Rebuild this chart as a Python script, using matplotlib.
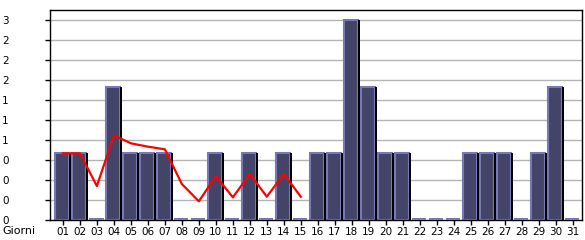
import matplotlib
matplotlib.use("Agg")
import matplotlib.pyplot as plt

# giorni del mese e visite per giorno
days = list(range(1, 32))
day_labels = ["%02d" % d for d in days]
visits = [1, 1, 0, 2, 1, 1, 1, 0, 0, 1, 0, 1, 0, 1, 0,
          1, 1, 3, 2, 1, 1, 0, 0, 0, 1, 1, 1, 0, 1, 2, 0]

# linea rossa (media) solo per i primi 15 giorni
avg_days = list(range(1, 16))
avg_values = [1.0, 1.0, 0.51, 1.27, 1.15, 1.10, 1.06, 0.54, 0.28,
              0.66, 0.34, 0.69, 0.35, 0.69, 0.35]

y_ticks = [0, 0.3, 0.6, 0.9, 1.2, 1.5, 1.8, 2.1, 2.4, 2.7, 3.0]
y_tick_labels = ["0", "0", "0", "0", "1", "1", "1", "2", "2", "2", "3"]

face = "#444468"
edge = "#7878b8"

fig = plt.figure(figsize=(5.85, 2.4), dpi=100)
ax = fig.add_axes([50 / 585, 20 / 240, 532 / 585, 210 / 240])

for y in y_ticks[1:]:
    ax.axhline(y, color="#b4b4b4", linewidth=1, zorder=0)

# barre con bordo chiaro e ombra nera a destra
ax.bar([d - 0.06 for d in days], visits, width=0.82, color=face,
       edgecolor=edge, linewidth=1.5, zorder=2)
ax.bar([d + 0.42 for d in days], visits, width=0.12, color="black",
       linewidth=0, zorder=3)
# giorni senza visite: sottile linea sul fondo
zero_mark = [0.035 if v == 0 else 0 for v in visits]
ax.bar([d - 0.04 for d in days], zero_mark, width=0.86, color=edge,
       linewidth=0, zorder=3)

ax.plot(avg_days, avg_values, color="#ff0000", linewidth=1.6, zorder=4)

ax.set_xlim(0.24, 31.55)
ax.set_ylim(0, 3.15)
ax.set_xticks(days)
ax.set_xticklabels(day_labels, fontsize=7.5)
ax.set_yticks(y_ticks)
ax.set_yticklabels(y_tick_labels, fontsize=7.5)
ax.tick_params(axis="x", length=3.6, width=1, pad=1.5)
ax.tick_params(axis="y", length=3.6, width=1, pad=30.9)
for lbl in ax.get_yticklabels():
    lbl.set_horizontalalignment("left")
for s in ax.spines.values():
    s.set_linewidth(1)

fig.text(2 / 585, 1 - 231 / 240, "Giorni", fontsize=8, va="center", ha="left")

fig.savefig("out.png", dpi=100)
